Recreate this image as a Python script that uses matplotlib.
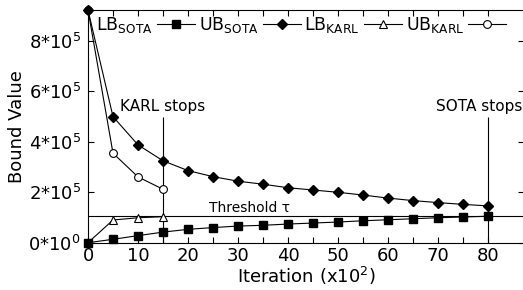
import matplotlib
matplotlib.use("Agg")
import matplotlib.pyplot as plt
from matplotlib.ticker import FuncFormatter, MultipleLocator

plt.rcParams['font.family'] = ['DejaVu Sans']
plt.rcParams['mathtext.fontset'] = 'dejavusans'
plt.rcParams['mathtext.default'] = 'regular'

# iterations (x10^2)
iters = [0, 5, 10, 15, 20, 25, 30, 35, 40, 45, 50, 55, 60, 65, 70, 75, 80]
lb_sota = [0, 13.5e3, 28e3, 42e3, 53e3, 60e3, 66e3, 69e3, 74e3, 78e3,
           82e3, 87e3, 91e3, 95e3, 99e3, 102e3, 105e3]
ub_sota = [923e3, 500e3, 388e3, 325e3, 286e3, 262e3, 244e3, 232e3, 218e3,
           209e3, 200e3, 189e3, 177e3, 167e3, 159e3, 152e3, 146e3]

karl_iters = [0, 5, 10, 15]
lb_karl = [0, 90e3, 99e3, 103e3]
ub_karl = [923e3, 355e3, 261e3, 212e3]

threshold = 1.06e5
karl_stop = 15
sota_stop = 80

fig = plt.figure(figsize=(5.23, 2.90), dpi=100)
ax = fig.add_axes([88 / 523, 47.3 / 290, 436 / 523, 232.7 / 290])

lw = 0.8
ax.axhline(threshold, color='black', lw=lw, zorder=1)
ax.vlines([karl_stop, sota_stop], 0, 5.0e5, color='black', lw=lw, zorder=1)

# SOTA curves drawn on top so their markers show at the shared start points
h1, = ax.plot(iters, lb_sota, '-', color='black', lw=lw, marker='s', ms=5.8,
              mfc='black', mec='black', clip_on=False, zorder=4)
h2, = ax.plot(iters, ub_sota, '-', color='black', lw=lw, marker='D', ms=4.6,
              mfc='black', mec='black', clip_on=False, zorder=4)
h3, = ax.plot(karl_iters, lb_karl, '-', color='black', lw=lw, marker='^', ms=5.5,
              mfc='white', mec='black', mew=0.8, clip_on=False, zorder=3)
h4, = ax.plot(karl_iters, ub_karl, '-', color='black', lw=lw, marker='o', ms=5.6,
              mfc='white', mec='black', mew=0.8, clip_on=False, zorder=3)

ax.text(karl_stop, 5.42e5, 'KARL stops', ha='center', va='center', fontsize=11)
ax.text(78.3, 5.42e5, 'SOTA stops', ha='center', va='center', fontsize=11)
ax.text(40.4, 1.2e5, 'Threshold τ', ha='right', va='baseline', fontsize=10)

ax.set_xlim(0, 87.2)
ax.set_ylim(0, 9.23e5)
ax.set_xticks(iters)
ax.set_xticklabels([str(i) if i % 10 == 0 else '' for i in iters])
ax.yaxis.set_major_locator(MultipleLocator(2e5))


def yfmt(v, pos):
    if v == 0:
        return r'$0{*}10^{0}$'
    return r'$%d{*}10^{5}$' % round(v / 1e5)


ax.yaxis.set_major_formatter(FuncFormatter(yfmt))
ax.tick_params(direction='in', top=True, right=True, length=4, width=lw,
               labelsize=13)
ax.tick_params(axis='y', pad=5)
ax.tick_params(axis='x', pad=3)
for s in ax.spines.values():
    s.set_linewidth(lw)

ax.set_xlabel(r'Iteration (x10$^{2}$)', fontsize=13, labelpad=0)
ax.set_ylabel('Bound Value', fontsize=13, labelpad=2)

ax.legend([h1, h2, h3, h4],
          [r'LB$_{SOTA}$', r'UB$_{SOTA}$', r'LB$_{KARL}$', r'UB$_{KARL}$'],
          ncol=4, markerfirst=False, frameon=False, fontsize=12.5,
          loc='upper left', bbox_to_anchor=(8 / 436, 1 - 5 / 232.7),
          borderaxespad=0, borderpad=0, handlelength=2.2,
          handletextpad=0.25, columnspacing=0.2)

fig.savefig('out.png', dpi=100)
